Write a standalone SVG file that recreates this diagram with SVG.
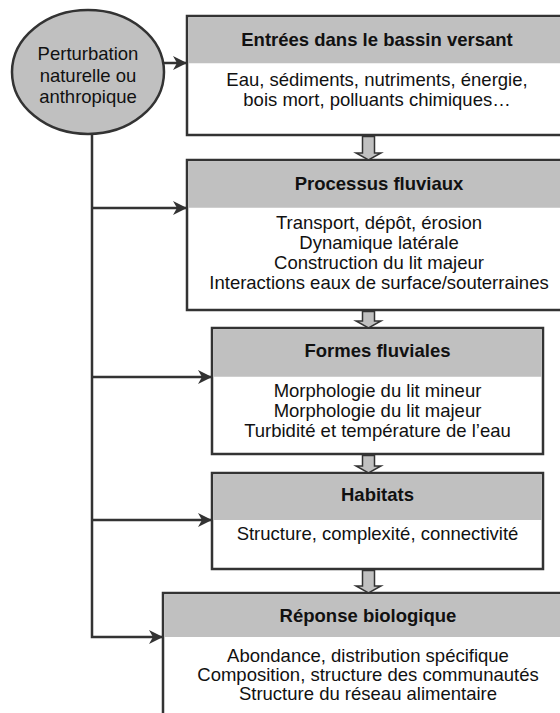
<svg xmlns="http://www.w3.org/2000/svg" width="560" height="713" viewBox="0 0 560 713">
<defs>
<style>
.box{fill:#fff;stroke:#333;stroke-width:2.5}
.hdr{fill:#c0c0c0}
.t{font-family:"Liberation Sans",Arial,sans-serif;font-size:18.5px;fill:#111;text-anchor:middle}
.b{font-weight:bold}
.ln{fill:none;stroke:#333;stroke-width:2.5}
.blk{fill:#c0c0c0;stroke:#333;stroke-width:1.5}
</style>
<marker id="ah" markerWidth="16" markerHeight="14" refX="14" refY="7" orient="auto" markerUnits="userSpaceOnUse">
<path d="M0,0 L14,7 L0,14 L4,7 Z" fill="#333"/>
</marker>
</defs>
<rect width="560" height="713" fill="#fff"/>

<g id="n0">
<ellipse cx="88" cy="72" rx="76" ry="62" fill="#c0c0c0" stroke="#333" stroke-width="2.5"/>
<text class="t" x="88" y="60">Perturbation</text>
<text class="t" x="88" y="82">naturelle ou</text>
<text class="t" x="88" y="103">anthropique</text>
</g>

<g id="n1">
<rect class="box" x="187" y="16" width="390" height="119"/>
<rect class="hdr" x="188.25" y="17.25" width="388" height="46"/>
<text class="t b" x="377" y="46">Entrées dans le bassin versant</text>
<text class="t" x="377" y="86">Eau, sédiments, nutriments, énergie,</text>
<text class="t" x="377" y="106">bois mort, polluants chimiques…</text>
</g>

<g id="n2">
<rect class="box" x="187" y="160" width="390" height="150"/>
<rect class="hdr" x="188.25" y="161.25" width="388" height="46.5"/>
<text class="t b" x="379" y="190">Processus fluviaux</text>
<text class="t" x="379" y="229">Transport, dépôt, érosion</text>
<text class="t" x="379" y="249">Dynamique latérale</text>
<text class="t" x="379" y="269">Construction du lit majeur</text>
<text class="t" x="379" y="289">Interactions eaux de surface/souterraines</text>
</g>

<g id="n3">
<rect class="box" x="212" y="328" width="331" height="126"/>
<rect class="hdr" x="213.25" y="329.25" width="328.5" height="47.5"/>
<text class="t b" x="377.5" y="357">Formes fluviales</text>
<text class="t" x="377.5" y="397">Morphologie du lit mineur</text>
<text class="t" x="377.5" y="417">Morphologie du lit majeur</text>
<text class="t" x="377.5" y="437">Turbidité et température de l’eau</text>
</g>

<g id="n4">
<rect class="box" x="212" y="473" width="331" height="96"/>
<rect class="hdr" x="213.25" y="474.25" width="328.5" height="45.75"/>
<text class="t b" x="377.5" y="501">Habitats</text>
<text class="t" x="377.5" y="540">Structure, complexité, connectivité</text>
</g>

<g id="n5">
<rect class="box" x="163" y="593" width="420" height="140"/>
<rect class="hdr" x="164.25" y="594.25" width="418" height="42.75"/>
<text class="t b" x="368" y="622">Réponse biologique</text>
<text class="t" x="368" y="662">Abondance, distribution spécifique</text>
<text class="t" x="368" y="681">Composition, structure des communautés</text>
<text class="t" x="368" y="700">Structure du réseau alimentaire</text>
</g>

<g id="connectors">
<line class="ln" x1="164" y1="63" x2="187" y2="63" marker-end="url(#ah)"/>
<polyline class="ln" points="92,133 92,637 163,637" marker-end="url(#ah)"/>
<line class="ln" x1="92" y1="208" x2="187" y2="208" marker-end="url(#ah)"/>
<line class="ln" x1="92" y1="377" x2="212" y2="377" marker-end="url(#ah)"/>
<line class="ln" x1="92" y1="520" x2="212" y2="520" marker-end="url(#ah)"/>
<path class="blk" d="M362.5,136.5 H374.5 V153 H381 L368.5,160 L356,153 H362.5 Z"/>
<path class="blk" d="M362.5,311.5 H374.5 V321 H381 L368.5,328 L356,321 H362.5 Z"/>
<path class="blk" d="M362.5,455.5 H374.5 V466 H381 L368.5,473 L356,466 H362.5 Z"/>
<path class="blk" d="M362.5,570.5 H374.5 V586 H381 L368.5,593 L356,586 H362.5 Z"/>
</g>
</svg>
